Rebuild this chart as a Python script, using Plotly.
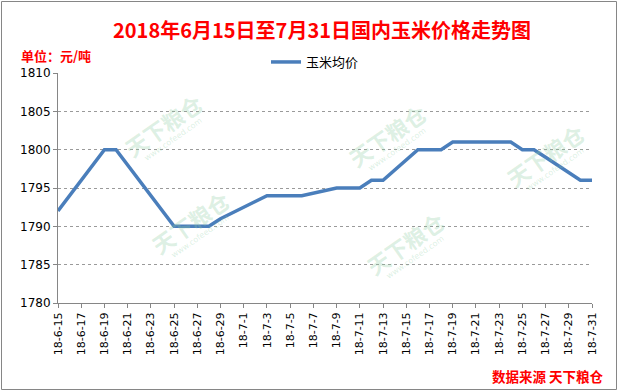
import plotly.graph_objects as go
from datetime import date, timedelta

# Data (trading-day readings; line connects them on a date axis)
dates = ["2018-06-15", "2018-06-19", "2018-06-20", "2018-06-21", "2018-06-22",
         "2018-06-25", "2018-06-26", "2018-06-27", "2018-06-28", "2018-06-29",
         "2018-07-03", "2018-07-04", "2018-07-05", "2018-07-06", "2018-07-09",
         "2018-07-10", "2018-07-11", "2018-07-12", "2018-07-13", "2018-07-16",
         "2018-07-17", "2018-07-18", "2018-07-19", "2018-07-20", "2018-07-23",
         "2018-07-24", "2018-07-25", "2018-07-26", "2018-07-27", "2018-07-30",
         "2018-07-31"]
prices = [1792, 1800, 1800, 1798, 1796,
          1790, 1790, 1790, 1790, 1791,
          1794, 1794, 1794, 1794, 1795,
          1795, 1795, 1796, 1796, 1800,
          1800, 1800, 1801, 1801, 1801,
          1801, 1800, 1800, 1799, 1796,
          1796]
series_name = "玉米均价"

# tick labels every two days
start = date(2018, 6, 15)
tick_dates = [start + timedelta(days=2 * i) for i in range(24)]
tick_vals = [d.isoformat() for d in tick_dates]
tick_text = [f"18-{d.month}-{d.day}" for d in tick_dates]

CJK = "Noto Sans CJK SC"
RED = "#FF0000"

fig = go.Figure()
fig.add_trace(go.Scatter(
    x=dates, y=prices, mode="lines", name=series_name,
    line=dict(color="#4A7EBB", width=3.5),
))

W, H = 619, 392
L, R, T, B = 58, 27, 73, 89
pw, ph = W - L - R, H - T - B

def px(xp):
    return (xp - L) / pw

def py(yp):
    return (H - B - yp) / ph

fig.update_layout(
    width=W, height=H,
    margin=dict(l=L, r=R, t=T, b=B),
    paper_bgcolor="white", plot_bgcolor="white",
    showlegend=True,
    legend=dict(orientation="h", x=px(266), y=py(47), xanchor="left", yanchor="top",
                font=dict(family=CJK, size=13, color="black"),
                bgcolor="rgba(0,0,0,0)", itemwidth=30),
    xaxis=dict(
        type="date",
        range=["2018-06-15", "2018-07-31"],
        tickvals=tick_vals, ticktext=tick_text, tickangle=-90,
        tickfont=dict(family="DejaVu Sans", size=11, color="black"),
        showline=True, linecolor="#868686", linewidth=1,
        ticks="outside", ticklen=4, tickcolor="#868686",
        showgrid=False, zeroline=False,
    ),
    yaxis=dict(
        range=[1780, 1810], dtick=5,
        tickfont=dict(family="DejaVu Sans", size=12, color="black"),
        showline=True, linecolor="#868686", linewidth=1,
        ticks="outside", ticklen=4, tickcolor="#868686",
        showgrid=True, gridcolor="#9a9a9a", griddash="dot", gridwidth=1,
        zeroline=False,
    ),
)

annotations = [
    dict(text="<b>2018年6月15日至7月31日国内玉米价格走势图</b>",
         x=px(322), y=py(30), xanchor="center", yanchor="middle",
         font=dict(family=CJK, size=20, color=RED)),
    dict(text="<b>单位：元/吨</b>", x=px(19), y=py(55), xanchor="left", yanchor="middle",
         font=dict(family=CJK, size=13, color=RED)),
    dict(text="<b>数据来源 天下粮仓</b>", x=px(606), y=py(376), xanchor="right", yanchor="middle",
         font=dict(family=CJK, size=13.5, color=RED)),
]
# faint watermarks
for cx, cy in [(163, 125), (190, 222), (387, 135), (545, 155), (405, 243)]:
    annotations.append(dict(
        text="<b>天下粮仓</b>", x=px(cx), y=py(cy), xanchor="center", yanchor="middle",
        textangle=-35, font=dict(family=CJK, size=22, color="rgba(140,205,160,0.3)")))
    annotations.append(dict(
        text="www.cofeed.com", x=px(cx + 10), y=py(cy + 14), xanchor="center", yanchor="middle",
        textangle=-35, font=dict(family="DejaVu Sans", size=8, color="rgba(140,205,160,0.3)")))
for a in annotations:
    a.update(xref="paper", yref="paper", showarrow=False)
fig.update_layout(annotations=annotations)

# outer border
fig.add_shape(type="rect", xref="paper", yref="paper",
              x0=px(1.5), x1=px(616.5), y0=py(389.5), y1=py(1.5),
              line=dict(color="#868686", width=1), layer="below")

fig.write_html("out.html", config={"displayModeBar": False},
               post_script="document.body.style.margin='0';")
